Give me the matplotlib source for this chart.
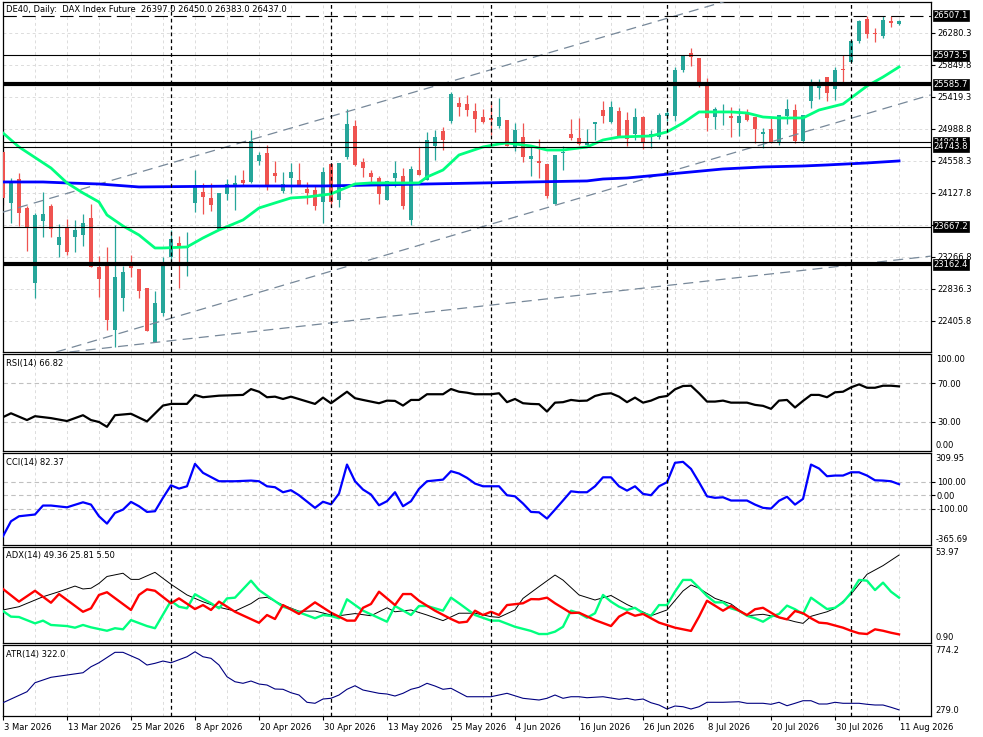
import numpy as np
import matplotlib
matplotlib.use("Agg")
import matplotlib.pyplot as plt
from matplotlib import transforms

plt.rcParams["font.family"] = ["DejaVu Sans"]
plt.rcParams["font.size"] = 6

# ---------------- data ----------------
HEADER = "DE40, Daily:  DAX Index Future  26397.0 26450.0 26383.0 26437.0"

DATE_LABELS = ["3 Mar 2026", "13 Mar 2026", "25 Mar 2026", "8 Apr 2026", "20 Apr 2026",
               "30 Apr 2026", "13 May 2026", "25 May 2026", "4 Jun 2026", "16 Jun 2026",
               "26 Jun 2026", "8 Jul 2026", "20 Jul 2026", "30 Jul 2026", "11 Aug 2026"]
DATE_TICKS = list(range(0, 113, 8))
MONTH_STARTS = [21, 41, 61, 83, 106]

OPEN = [24676, 23990, 24312, 23922, 22914, 23748, 23949, 23425, 23667, 23532,
        23559, 23788, 23129, 23196, 22282, 22712, 23142, 23102, 22846, 22120,
        22510, 23263, 23452, 23384, 23990, 24138, 24057, 23640, 24111, 24232,
        24299, 24272, 24555, 24662, 24393, 24151, 24326, 24299, 24178, 24164,
        24003, 24514, 24030, 24608, 25025, 24541, 24393, 24326, 24030, 24326,
        24353, 23761, 24433, 24299, 24756, 24958, 25093, 25335, 25321, 25227,
        25146, 25133, 25025, 25106, 24729, 24877, 24581, 24555, 24514, 23976,
        24662, 24918, 24864, 24770, 25052, 25240, 25079, 25227, 25106, 24918,
        25146, 24904, 24877, 25160, 25160, 25778, 26007, 25940, 25604, 25146,
        25214, 25160, 25066, 25200, 25146, 24918, 24985, 24797, 25160, 25240,
        24824, 25362, 25536, 25684, 25523, 25792, 25886, 26169, 26464, 26276,
        26236, 26438, 26397]
HIGH = [24770, 24326, 24393, 23949, 23855, 24138, 23976, 23707, 23774, 23761,
        23842, 23976, 23277, 23398, 23694, 23142, 23290, 23102, 22846, 22806,
        23263, 23626, 23546, 23600, 24433, 24259, 24259, 24124, 24312, 24366,
        24433, 24972, 24676, 24770, 24555, 24407, 24528, 24528, 24272, 24232,
        24474, 24528, 24528, 25254, 25106, 24595, 24433, 24353, 24286, 24555,
        24460, 24487, 24743, 24945, 24972, 25012, 25483, 25415, 25442, 25335,
        25254, 25348, 25402, 25106, 25066, 25066, 24743, 24850, 24514, 24635,
        24756, 25119, 25133, 24985, 25079, 25362, 25362, 25281, 25214, 25267,
        25160, 24972, 25200, 25267, 25819, 25967, 26074, 25940, 25671, 25281,
        25321, 25281, 25267, 25254, 25146, 24998, 25133, 25173, 25389, 25321,
        25173, 25657, 25657, 25684, 25819, 25980, 26169, 26451, 26507, 26343,
        26507, 26500, 26450]
LOW = [23963, 23721, 23680, 23344, 22712, 23532, 23532, 23263, 23290, 23331,
       23411, 23129, 22725, 22282, 22053, 22537, 22994, 22712, 22268, 22120,
       22470, 23183, 22846, 23008, 23869, 23842, 23882, 23640, 24030, 23896,
       24232, 24259, 24501, 24164, 24272, 24124, 24124, 24218, 23976, 23896,
       23721, 23936, 23936, 24581, 24487, 24339, 24272, 23976, 24030, 24205,
       23909, 23694, 24366, 24299, 24568, 24702, 25066, 25160, 25160, 24945,
       25066, 24904, 24998, 24756, 24689, 24541, 24353, 24326, 24057, 23976,
       24433, 24837, 24770, 24770, 24837, 25066, 25066, 24877, 24756, 24837,
       24716, 24729, 24850, 25093, 25093, 25752, 25832, 25550, 24958, 24985,
       25039, 24877, 24891, 25093, 24797, 24729, 24797, 24770, 25052, 24797,
       24797, 25267, 25389, 25362, 25375, 25617, 25886, 26142, 26209, 26155,
       26209, 26357, 26383]
CLOSE = [24057, 24272, 23855, 23667, 23828, 23842, 23640, 23532, 23331, 23626,
         23721, 23129, 22967, 22416, 22994, 23062, 23115, 22806, 22268, 22645,
         23196, 23505, 23398, 23411, 24232, 24070, 23963, 24124, 24245, 24259,
         24259, 24824, 24635, 24232, 24353, 24245, 24407, 24218, 24124, 23949,
         24407, 24003, 24528, 25052, 24501, 24460, 24339, 24111, 24286, 24393,
         23949, 24447, 24366, 24837, 24877, 24837, 25456, 25281, 25240, 25119,
         25079, 25106, 25146, 24756, 24972, 24608, 24622, 24528, 24084, 24635,
         24676, 24864, 24783, 24797, 25079, 25160, 25281, 24877, 24850, 25146,
         24810, 24918, 25173, 25200, 25778, 25967, 25953, 25604, 25133, 25254,
         25227, 25133, 25160, 25106, 24985, 24945, 24797, 25173, 25254, 24824,
         25173, 25563, 25563, 25469, 25778, 25778, 26169, 26438, 26263, 26263,
         26451, 26411, 26437]

# moving averages (bar index, price)
MA_FAST_X = [0, 2, 6, 8, 10, 12, 13, 15, 17, 19, 20, 23, 25, 27, 30, 32, 34, 36, 38, 41,
             44, 46, 52, 53, 55, 57, 60, 62, 63, 66, 68, 70, 73, 75, 77, 81, 83, 85, 87,
             91, 93, 95, 97, 100, 102, 105, 106, 108, 110, 112]
MA_FAST_Y = [24931, 24743, 24460, 24259, 24124, 24003, 23828, 23680, 23559, 23384,
             23384, 23398, 23519, 23626, 23761, 23922, 23990, 24057, 24070, 24111,
             24245, 24259, 24259, 24339, 24433, 24635, 24743, 24783, 24797, 24756,
             24702, 24702, 24743, 24837, 24877, 24891, 24945, 25066, 25214, 25214,
             25200, 25146, 25133, 25133, 25240, 25321, 25402, 25563, 25684, 25819]
MA_SLOW_X = [0, 5, 8, 12, 17, 30, 40, 53, 60, 66, 73, 75, 78, 82, 90, 95, 100, 103, 108, 112]
MA_SLOW_Y = [24272, 24272, 24259, 24245, 24205, 24218, 24218, 24245, 24259, 24272,
             24286, 24312, 24326, 24366, 24447, 24474, 24487, 24501, 24528, 24555]

# horizontal levels
LEVEL_DASHED = 26507.1
LEVELS_THIN = [25973.5, 24804.5, 24743.8, 23667.2]
LEVELS_THICK = [25585.7, 23162.4]

# trend lines: two anchor points (bar, price) each
TREND_LINES = [((0, 23867), (90, 26693)),
               ((7.5, 22012), (112, 25318)),
               ((14, 22053), (110, 23203))]

MAIN_TICKS = [22405.8, 22836.3, 23266.8, 23697.3, 24127.8, 24558.3,
              24988.8, 25419.3, 25849.8, 26280.3]
MAIN_HIDDEN = [23697.3]  # covered by the 23667.2 level box in the original

RSI_X = [0, 1, 3, 4, 6, 8, 10, 11, 12, 13, 14, 16, 18, 20, 21, 23, 24, 25, 27, 30, 31, 32,
         33, 34, 35, 36, 39, 40, 41, 43, 44, 45, 47, 48, 49, 50, 51, 52, 53, 55, 56, 57, 58,
         59, 61, 62, 63, 64, 65, 66, 67, 68, 69, 70, 71, 72, 73, 74, 75, 76, 77, 78, 79, 80,
         81, 82, 83, 84, 85, 86, 87, 88, 89, 90, 91, 93, 94, 95, 96, 97, 98, 99, 100, 101,
         102, 103, 104, 105, 106, 107, 108, 109, 110, 111, 112]
RSI_Y = [35, 39, 32, 36, 34, 31, 37, 32, 30, 25, 37, 38.5, 30.6, 47, 48.7, 48.7, 58, 55.6,
         57.2, 58, 64, 61.3, 55.6, 56.2, 53.8, 56.2, 48.7, 55.2, 49.4, 61.3, 54.6, 52.8,
         49.4, 52.1, 51.8, 47, 52.8, 52.8, 58.7, 58.7, 64.1, 61.3, 60.3, 58.7, 58.7, 59.7,
         50.5, 53.8, 49.4, 48.7, 48.4, 40.8, 50, 50.5, 52.8, 51.8, 52.1, 56.9, 59, 59.7,
         56.2, 50.5, 55.2, 50, 52.1, 55.6, 56.9, 63.8, 67.2, 67.5, 59.7, 51.1, 51.1, 52.1,
         50, 50, 47.7, 46.7, 43.6, 52.1, 52.8, 45, 51.8, 58, 58, 55.6, 60.7, 61.3, 65.8,
         68.9, 65.4, 65.4, 67.5, 67.5, 66.82]

CCI_X = [0, 1, 2, 4, 5, 6, 8, 10, 11, 12, 13, 14, 15, 16, 17, 18, 19, 20, 21, 22, 23, 24,
         25, 27, 29, 31, 32, 33, 34, 35, 36, 37, 39, 40, 41, 42, 43, 44, 45, 46, 47, 48, 49,
         50, 51, 52, 53, 55, 56, 57, 58, 59, 60, 62, 63, 64, 65, 66, 67, 68, 69, 70, 71, 72,
         73, 74, 75, 76, 77, 78, 79, 80, 81, 82, 83, 84, 85, 86, 87, 88, 89, 90, 91, 93, 94,
         95, 96, 97, 98, 99, 100, 101, 102, 103, 104, 105, 106, 107, 108, 109, 110, 111, 112]
CCI_Y = [-301, -191, -154, -141, -75, -75, -88, -51, -68, -154, -208, -129, -105, -48, -80,
         -122, -117, -18, 74, 50, 67, 232, 166, 104, 104, 109, 104, 67, 60, 23, 38, 1, -92,
         -47, -66, 13, 227, 104, 43, 6, -73, -43, 23, -80, -43, 48, 104, 116, 178, 161, 129,
         87, 67, 67, 1, -7, -60, -122, -125, -171, -105, -38, 30, 23, 23, 67, 133, 133, 67,
         35, 67, 11, 1, 67, 97, 240, 247, 195, 97, -7, -18, -14, -38, -38, -68, -92, -97,
         -40, -10, -68, -26, 227, 198, 141, 146, 146, 170, 170, 146, 111, 109, 104, 82.37]

ADX_X = [0, 2, 5, 7, 9, 10, 11, 12, 13, 15, 16, 17, 19, 21, 23, 25, 27, 29, 31, 32, 33, 35,
         37, 39, 41, 42, 44, 46, 48, 49, 51, 53, 55, 57, 59, 61, 62, 64, 65, 67, 69, 70, 72,
         74, 76, 78, 81, 83, 85, 86, 87, 89, 91, 93, 95, 97, 99, 100, 101, 103, 104, 106,
         108, 110, 112]
ADX_Y = [19, 20.8, 26.3, 29.1, 32.2, 30.6, 31, 33.7, 37.5, 39.3, 35.9, 35.9, 39.8, 33.2,
         27.3, 23.5, 20.5, 18.4, 22.5, 25.5, 26, 21.7, 18.3, 18.4, 16.2, 15.8, 17, 15.8,
         20.2, 18, 19, 16.2, 13.1, 17.2, 17.2, 15.3, 14.9, 19, 25.4, 31.9, 38.3, 35.5, 27.3,
         24.5, 27, 22, 15.8, 19, 29.5, 32.8, 31, 25.4, 22.3, 15.8, 16.6, 14.9, 12.5, 11.6,
         15.5, 18, 19.9, 27.7, 38.7, 43.5, 49.36]

PDI_X = [0, 1, 2, 4, 5, 6, 8, 9, 10, 11, 13, 14, 15, 16, 18, 19, 21, 22, 23, 24, 26, 27,
         28, 29, 31, 32, 35, 36, 39, 40, 41, 42, 43, 45, 48, 49, 51, 52, 53, 55, 56, 57, 59,
         61, 62, 64, 66, 67, 68, 69, 70, 71, 72, 73, 74, 75, 76, 77, 78, 79, 80, 81, 82, 83,
         84, 85, 86, 87, 88, 89, 90, 91, 92, 93, 94, 95, 96, 97, 98, 99, 100, 101, 103, 104,
         105, 106, 107, 108, 109, 110, 111, 112]
PDI_Y = [18.4, 15.3, 15.1, 11.6, 13.1, 10.7, 10.1, 9.2, 10.7, 9.4, 7.5, 8.9, 8.3, 13.4,
         10.1, 8.9, 24, 20.8, 19.9, 27.7, 22.7, 19.9, 25.4, 25.8, 35.2, 30, 20.8, 19.4,
         14.4, 16.2, 15.7, 14.4, 24.9, 18.6, 12.5, 21.2, 16.2, 21.2, 21.2, 18.6, 25.8, 22.7,
         16.2, 13.1, 13.1, 9.7, 7.4, 5.7, 5.7, 7, 9.7, 18.6, 17.2, 14.7, 17.2, 27.3, 23.6,
         20.8, 19, 20.2, 17.2, 15.8, 21.7, 21.7, 29.1, 35.6, 35.6, 31.3, 26.7, 23.2, 23.2,
         19.9, 18.6, 15.8, 14.4, 12.5, 15.3, 16.8, 21.4, 19.4, 16.8, 25.8, 19.5, 20.2, 23.2,
         28.5, 35.6, 35.2, 30, 34.1, 29.1, 25.81]

MDI_X = [0, 2, 4, 6, 7, 10, 11, 12, 13, 16, 17, 18, 19, 21, 22, 24, 25, 26, 27, 29, 32, 33,
         34, 35, 37, 39, 41, 43, 44, 45, 46, 47, 49, 50, 51, 52, 54, 56, 57, 58, 59, 60, 61,
         62, 63, 64, 65, 66, 67, 68, 69, 71, 72, 74, 76, 77, 78, 79, 80, 82, 84, 86, 87, 88,
         90, 91, 92, 93, 94, 95, 96, 97, 98, 99, 100, 101, 102, 103, 105, 106, 107, 108, 109,
         110, 111, 112]
MDI_Y = [30.6, 23.6, 29.6, 23, 27.8, 18, 19.9, 27.3, 28.8, 19, 27.3, 30.4, 29.6, 22.7, 25.4,
         19.5, 21.7, 19, 23.6, 18, 11.9, 16.2, 14, 21.7, 16.8, 23.2, 17.5, 13.1, 13.1, 20.2,
         22.3, 29.1, 21.7, 27.8, 27.8, 24.1, 18.6, 14, 12, 12.5, 18.6, 16.2, 18, 16.2, 21.7,
         22.2, 22.7, 25, 24.9, 25.8, 22.7, 17.3, 17.5, 13.4, 10.1, 15.3, 17.7, 15.8, 16.8, 12,
         9.2, 7.4, 15.3, 24.1, 18.6, 21.2, 18.6, 16.2, 19.4, 20.2, 17.5, 14.9, 13.8, 18.4,
         17.2, 14.4, 12, 11.6, 9.2, 7.5, 6.1, 5.7, 8.3, 7.5, 6.4, 5.5]

ATR_X = [0, 3, 4, 6, 8, 10, 11, 12, 14, 15, 17, 18, 19, 20, 21, 23, 24, 25, 26, 27, 28, 29,
         30, 31, 32, 33, 34, 35, 36, 37, 38, 39, 40, 41, 42, 43, 44, 45, 47, 48, 49, 50, 51,
         52, 53, 54, 55, 56, 58, 59, 61, 62, 63, 65, 67, 68, 69, 70, 71, 72, 73, 75, 77, 78,
         79, 80, 81, 82, 83, 84, 85, 86, 87, 88, 90, 92, 93, 95, 96, 97, 98, 99, 100, 101,
         102, 103, 104, 105, 107, 108, 109, 110, 111, 112]
ATR_Y = [372, 449, 512, 550, 566, 582, 624, 652, 725, 725, 676, 636, 648, 664, 652, 694,
         729, 694, 683, 636, 554, 519, 508, 524, 503, 496, 468, 466, 442, 426, 375, 368, 398,
         403, 426, 466, 491, 461, 438, 433, 419, 438, 466, 480, 508, 489, 466, 473, 414, 414,
         414, 426, 438, 403, 391, 403, 426, 403, 414, 414, 407, 414, 396, 403, 391, 398, 372,
         356, 328, 349, 344, 328, 344, 375, 375, 379, 368, 368, 361, 375, 351, 368, 386, 386,
         363, 363, 375, 368, 368, 361, 356, 356, 340, 322]

# ---------------- styling ----------------
UP = "#26a69a"
DOWN = "#ef5350"
GRID = "#dcdcdc"
GRID_IND = "#c0c0c0"
W, H = 983, 737

fig = plt.figure(figsize=(9.83, 7.37), dpi=100)
fig.patch.set_facecolor("white")


def add_panel(top, bottom):
    return fig.add_axes([2.5 / W, 1 - bottom / H, (930.7 - 2.5) / W, (bottom - top) / H])


def style(ax):
    ax.set_xlim(-0.06, 115.96)
    ax.yaxis.tick_right()
    ax.tick_params(axis="y", direction="out", length=3, width=0.8, pad=1.5, labelsize=6)
    ax.tick_params(axis="x", length=0, labelbottom=False)
    for s in ax.spines.values():
        s.set_linewidth(0.9)
    for b in range(4, 113, 4):
        ax.axvline(b, color=GRID, lw=0.7, ls=(0, (3, 3)), zorder=0)
    for b in MONTH_STARTS:
        ax.axvline(b, color="black", lw=0.9, ls=(0, (3, 2.5)), zorder=6)


def title(ax, txt, dy=-9):
    ax.annotate(txt, xy=(0, 1), xycoords="axes fraction", xytext=(4, dy),
                textcoords="offset pixels", ha="left", va="center", fontsize=6, zorder=10)


def edge_labels(ax, top, bottom):
    t_top = transforms.offset_copy(ax.transAxes, fig=fig, x=5, y=-1, units="dots")
    t_bot = transforms.offset_copy(ax.transAxes, fig=fig, x=5, y=1, units="dots")
    ax.text(1.0, 1.0, top, transform=t_top, ha="left", va="top", fontsize=6, clip_on=False)
    ax.text(1.0, 0.0, bottom, transform=t_bot, ha="left", va="bottom", fontsize=6, clip_on=False)


ax_main = add_panel(1.7, 352)
ax_rsi = add_panel(354.3, 451)
ax_cci = add_panel(453.3, 545)
ax_adx = add_panel(546.7, 642.7)
ax_atr = add_panel(645.3, 716)
for a in (ax_main, ax_rsi, ax_cci, ax_adx, ax_atr):
    style(a)

# ---- main price panel ----
ax = ax_main
ax.set_ylim(21985, 26697)
ax.set_yticks(MAIN_TICKS)
ax.set_yticklabels(["" if v in MAIN_HIDDEN else f"{v:.1f}" for v in MAIN_TICKS])
for v in MAIN_TICKS:
    ax.axhline(v, color=GRID, lw=0.7, ls=(0, (3, 3)), zorder=0)

idx = np.arange(len(OPEN))
o, h, l, c = (np.array(v, dtype=float) for v in (OPEN, HIGH, LOW, CLOSE))
cols = np.where(c >= o, UP, DOWN)
ax.vlines(idx, l, h, colors=cols, lw=0.9, zorder=2)
ax.bar(idx, np.maximum(np.abs(c - o), 12), bottom=np.minimum(o, c), width=0.6,
       color=cols, lw=0, zorder=3)

for p1, p2 in TREND_LINES:
    ax.axline(p1, p2, color="#778899", lw=0.9, ls=(0, (8, 5)), zorder=4)

ax.plot(MA_SLOW_X, MA_SLOW_Y, color="#0000ff", lw=2.0, zorder=5)
ax.plot(MA_FAST_X, MA_FAST_Y, color="#00ff7f", lw=2.0, zorder=5)

ax.axhline(LEVEL_DASHED, color="black", lw=0.8, ls=(0, (12, 5)), zorder=7)
for v in LEVELS_THIN:
    ax.axhline(v, color="black", lw=0.8, zorder=7)
for v in LEVELS_THICK:
    ax.axhline(v, color="black", lw=3.0, zorder=7)

box_tr = transforms.blended_transform_factory(ax.transAxes, ax.transData)
box_tr = box_tr + transforms.ScaledTranslation(2.8 / 100, 0, fig.dpi_scale_trans)
for k, v in enumerate([LEVEL_DASHED] + LEVELS_THIN + LEVELS_THICK):
    ax.text(1.0, v, f"{v:.1f}", transform=box_tr, ha="left", va="center", fontsize=6,
            color="white", zorder=10 + k, clip_on=False,
            bbox=dict(boxstyle="square,pad=0.12", fc="black", ec="black", lw=0.5))

title(ax, HEADER, dy=-8)

# ---- RSI ----
ax = ax_rsi
ax.set_ylim(0, 100)
ax.set_yticks([70, 30])
ax.set_yticklabels(["70.00", "30.00"])
for v in (70, 30):
    ax.axhline(v, color=GRID_IND, lw=0.8, ls=(0, (4, 3)), zorder=0)
ax.plot(RSI_X, RSI_Y, color="black", lw=1.6, zorder=5)
edge_labels(ax, "100.00", "0.00")
title(ax, "RSI(14) 66.82")

# ---- CCI ----
ax = ax_cci
ax.set_ylim(-365.69, 309.95)
ax.set_yticks([100, 0, -100])
ax.set_yticklabels(["100.00", "0.00", "-100.00"])
for v in (100, 0, -100):
    ax.axhline(v, color=GRID_IND, lw=0.8, ls=(0, (4, 3)), zorder=0)
ax.plot(CCI_X, CCI_Y, color="#0000ff", lw=1.6, zorder=5)
edge_labels(ax, "309.95", "-365.69")
title(ax, "CCI(14) 82.37")

# ---- ADX ----
ax = ax_adx
ax.set_ylim(0.90, 53.97)
ax.set_yticks([])
ax.plot(ADX_X, ADX_Y, color="black", lw=0.7, zorder=5)
ax.plot(PDI_X, PDI_Y, color="#00ff7f", lw=1.7, zorder=5)
ax.plot(MDI_X, MDI_Y, color="#ff0000", lw=1.7, zorder=5)
edge_labels(ax, "53.97", "0.90")
title(ax, "ADX(14) 49.36 25.81 5.50")

# ---- ATR ----
ax = ax_atr
ax.set_ylim(279.0, 774.2)
ax.set_yticks([])
ax.plot(ATR_X, ATR_Y, color="#000080", lw=0.8, zorder=5)
edge_labels(ax, "774.2", "279.0")
title(ax, "ATR(14) 322.0")
ax.set_xticks(DATE_TICKS)
ax.set_xticklabels(DATE_LABELS)
ax.tick_params(axis="x", length=3, width=0.8, labelbottom=True, pad=2, labelsize=6)
shift = transforms.ScaledTranslation(1 / 100, 0, fig.dpi_scale_trans)
for lab in ax.get_xticklabels():
    lab.set_horizontalalignment("left")
    lab.set_transform(lab.get_transform() + shift)

fig.savefig("out.png", dpi=100, facecolor="white")
